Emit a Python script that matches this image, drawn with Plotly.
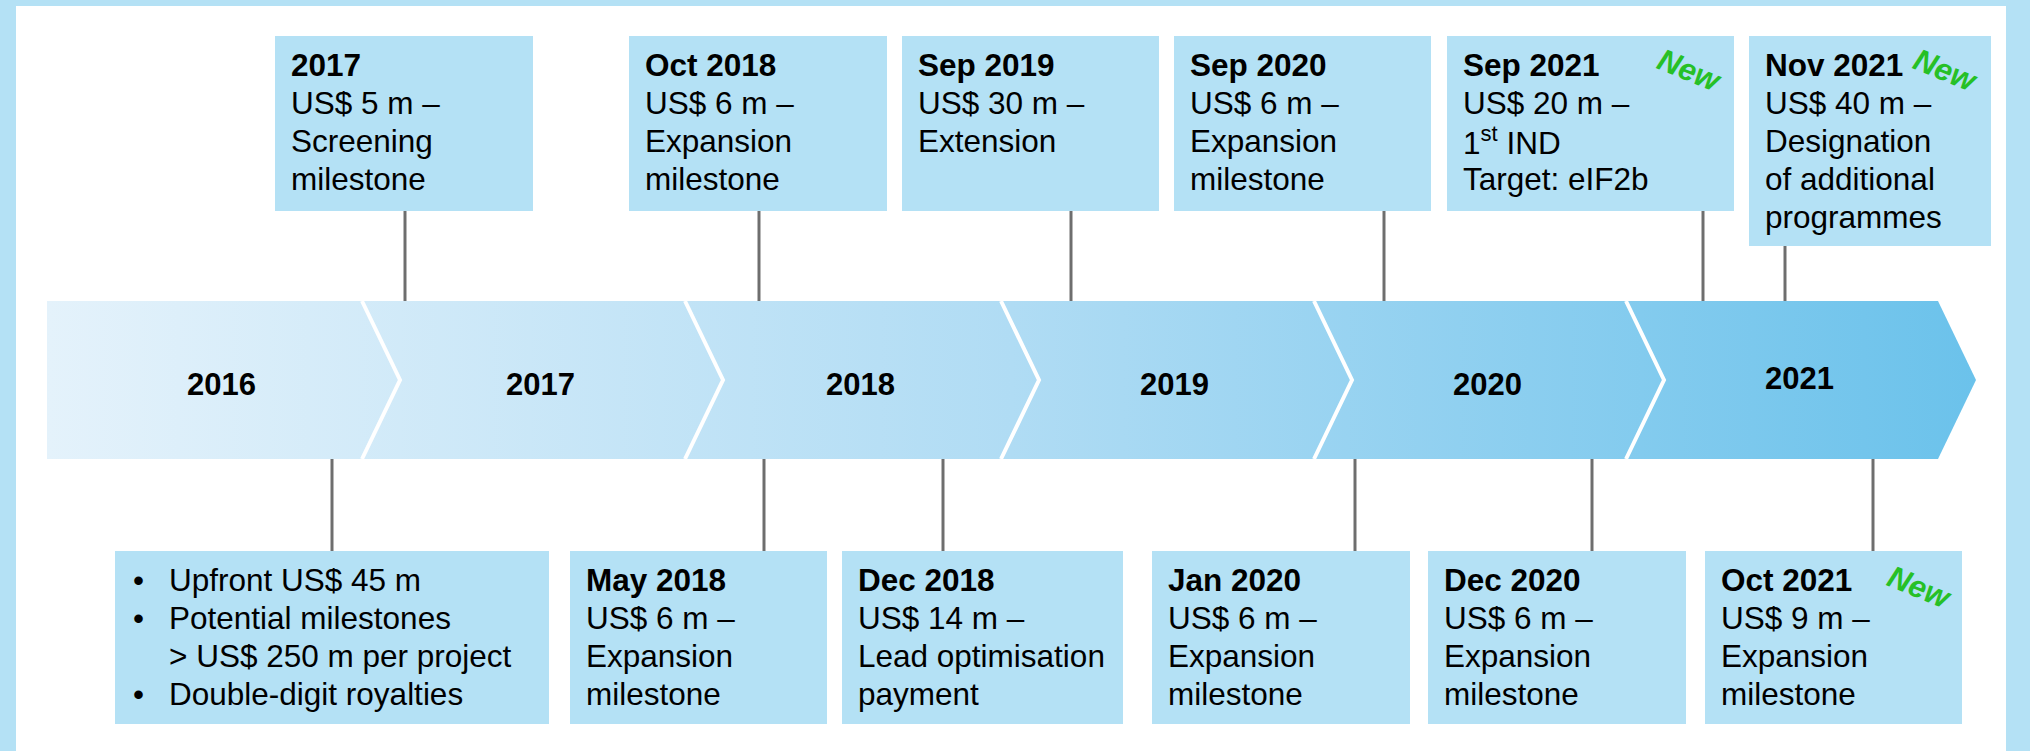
import plotly.graph_objects as go

# ---- data ----
years = ["2016", "2017", "2018", "2019", "2020", "2021"]

top_titles = ["2017", "Oct 2018", "Sep 2019", "Sep 2020", "Sep 2021", "Nov 2021"]
top_amounts = ["US$ 5 m –", "US$ 6 m –", "US$ 30 m –", "US$ 6 m –", "US$ 20 m –", "US$ 40 m –"]
top_details = [
    ["Screening", "milestone"],
    ["Expansion", "milestone"],
    ["Extension"],
    ["Expansion", "milestone"],
    ["1<sup>st</sup> IND", "Target: eIF2b"],
    ["Designation", "of additional", "programmes"],
]
top_new = [False, False, False, False, True, True]

deal_terms = ["Upfront US$ 45 m", "Potential milestones", "> US$ 250 m per project", "Double-digit royalties"]
deal_bullet = [True, True, False, True]

bottom_titles = ["May 2018", "Dec 2018", "Jan 2020", "Dec 2020", "Oct 2021"]
bottom_amounts = ["US$ 6 m –", "US$ 14 m –", "US$ 6 m –", "US$ 6 m –", "US$ 9 m –"]
bottom_details = [
    ["Expansion", "milestone"],
    ["Lead optimisation", "payment"],
    ["Expansion", "milestone"],
    ["Expansion", "milestone"],
    ["Expansion", "milestone"],
]
bottom_new = [False, False, False, False, True]

# ---- layout constants (pixels) ----
W, H = 2030, 751
FRAME = "#b4e1f5"
BOX = "#b4e1f5"
CONNECTOR = "#6e6e6e"
GREEN = "#26c026"
FONT = "Liberation Sans, Arial, sans-serif"
FS = 31.5
LINE_H = 38
PAD_X = 14

ARROW_TOP, ARROW_BOT = 301, 459
ARROW_LEFT = 47
NOTCH = 38
seg_edges = [362, 685, 1001, 1314, 1626, 1938]
year_dy = [0, 0, 0, 0, 0, -6]

top_slots = [(275, 533), (629, 887), (902, 1159), (1174, 1431), (1447, 1734), (1749, 1991)]
top_bottoms = [211, 211, 211, 211, 211, 246]
top_lines_x = [405, 759, 1071, 1384, 1703, 1785]
TOP_Y = 36

bottom_slots = [(115, 549), (570, 827), (842, 1123), (1152, 1410), (1428, 1686), (1705, 1962)]
bottom_lines_x = [332, 764, 943, 1355, 1592, 1873]
BOT_Y0, BOT_Y1 = 551, 724

new_pos = [(1690, 70), (1946, 70), (1920, 587)]

fig = go.Figure()
shapes = []
annotations = []

# white panel inside the light-blue frame
shapes.append(dict(type="rect", x0=16, x1=2006, y0=6, y1=H + 5, fillcolor="white",
                   line_width=0, layer="below"))

# connectors
for x, yb in zip(top_lines_x, top_bottoms):
    shapes.append(dict(type="line", x0=x, x1=x, y0=yb, y1=ARROW_TOP,
                       line=dict(color=CONNECTOR, width=3), layer="below"))
for x in bottom_lines_x:
    shapes.append(dict(type="line", x0=x, x1=x, y0=ARROW_BOT, y1=BOT_Y0,
                       line=dict(color=CONNECTOR, width=3), layer="below"))

# boxes
for (x0, x1), yb in zip(top_slots, top_bottoms):
    shapes.append(dict(type="rect", x0=x0, x1=x1, y0=TOP_Y, y1=yb, fillcolor=BOX,
                       line_width=0, layer="below"))
for x0, x1 in bottom_slots:
    shapes.append(dict(type="rect", x0=x0, x1=x1, y0=BOT_Y0, y1=BOT_Y1, fillcolor=BOX,
                       line_width=0, layer="below"))

# timeline arrow with gradient
mid = (ARROW_TOP + ARROW_BOT) / 2
end = seg_edges[-1]
fig.add_trace(go.Scatter(
    x=[ARROW_LEFT, end, end + NOTCH, end, ARROW_LEFT, ARROW_LEFT],
    y=[ARROW_TOP, ARROW_TOP, mid, ARROW_BOT, ARROW_BOT, ARROW_TOP],
    mode="lines", fill="toself", line=dict(width=0),
    fillgradient=dict(type="horizontal",
                      colorscale=[[0, "#e4f2fb"], [0.5, "#b0dcf4"], [1, "#6bc2eb"]]),
    hoverinfo="skip", showlegend=False,
))

# white chevron separators
for bx in seg_edges[:-1]:
    fig.add_trace(go.Scatter(
        x=[bx, bx + NOTCH, bx], y=[ARROW_TOP, mid, ARROW_BOT],
        mode="lines", line=dict(color="white", width=4),
        hoverinfo="skip", showlegend=False,
    ))

# year labels
starts = [ARROW_LEFT] + seg_edges[:-1]
for yr, a, b, dy in zip(years, starts, seg_edges, year_dy):
    annotations.append(dict(x=(a + b) / 2 + 17, y=mid + 4 + dy, text=f"<b>{yr}</b>",
                            showarrow=False, xanchor="center", yanchor="middle",
                            font=dict(family=FONT, size=31, color="black")))


def add_lines(x, top, lines):
    for j, t in enumerate(lines):
        yc = top + 40 + j * LINE_H - 0.35 * FS
        annotations.append(dict(x=x, y=yc, text=t, showarrow=False, xanchor="left",
                                yanchor="middle",
                                font=dict(family=FONT, size=FS, color="black")))


# top boxes text
for (x0, x1), title, amt, det in zip(top_slots, top_titles, top_amounts, top_details):
    add_lines(x0 + PAD_X, TOP_Y, [f"<b>{title}</b>", amt] + det)

# deal terms box
bx0 = bottom_slots[0][0]
for j, (t, bul) in enumerate(zip(deal_terms, deal_bullet)):
    yc = BOT_Y0 + 40 + j * LINE_H - 0.35 * FS
    if bul:
        annotations.append(dict(x=bx0 + 23, y=yc, text="•", showarrow=False,
                                xanchor="center", yanchor="middle",
                                font=dict(family=FONT, size=FS, color="black")))
    annotations.append(dict(x=bx0 + 52, y=yc, text=t, showarrow=False, xanchor="left",
                            yanchor="middle", font=dict(family=FONT, size=FS, color="black")))

# bottom milestone boxes text
for (x0, x1), title, amt, det in zip(bottom_slots[1:], bottom_titles, bottom_amounts, bottom_details):
    add_lines(x0 + PAD_X, BOT_Y0, [f"<b>{title}</b>", amt] + det)

# "New" tags
for x, y in new_pos:
    annotations.append(dict(x=x, y=y, text="<b><i>New</i></b>", showarrow=False,
                            textangle=22, xanchor="center", yanchor="middle",
                            font=dict(family=FONT, size=31, color=GREEN)))

fig.update_layout(
    width=W, height=H,
    margin=dict(l=0, r=0, t=0, b=0),
    paper_bgcolor=FRAME, plot_bgcolor=FRAME,
    xaxis=dict(range=[0, W], visible=False, fixedrange=True),
    yaxis=dict(range=[H, 0], visible=False, fixedrange=True),
    shapes=shapes, annotations=annotations,
    showlegend=False,
)

fig.write_html("out.html", config={"displayModeBar": False},
               post_script="document.body.style.margin='0';document.body.style.overflow='hidden';")
